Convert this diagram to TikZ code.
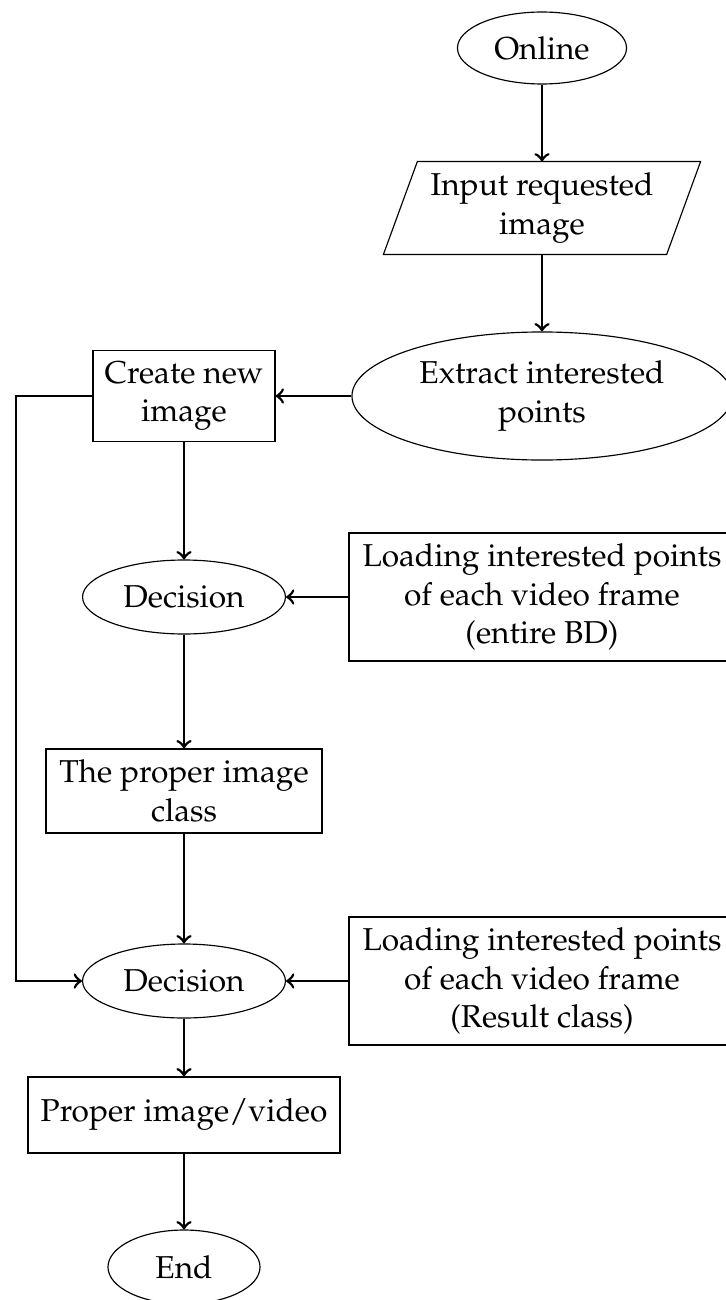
\documentclass[tikz,border=0pt]{standalone}
\usepackage[T1]{fontenc}
\usepackage{mathpazo}
\usetikzlibrary{shapes.geometric,calc}

\begin{document}
\begin{tikzpicture}[x=0.346pt,y=-0.346pt,
  every node/.style={font=\fontsize{10.95}{13.4}\selectfont, align=center, inner sep=0pt, line width=0.4pt},
  oval/.style={draw, ellipse},
  box/.style={draw, rectangle},
  link/.style={line width=0.95pt, ->},
]
\useasboundingbox (0,0) rectangle (725,1300);

% main column on the right
\node[oval, minimum width=58.5pt, minimum height=24.9pt] (online) at (542,48) {Online};
\node[minimum width=97.6pt, minimum height=31.8pt] (input) at (542,208) {Input requested\\image};
\draw[line width=0.4pt]
  ($(input.south west)+(-17,0)$) -- ($(input.north west)+(17,0)$) --
  ($(input.north east)+(17,0)$) -- ($(input.south east)+(-17,0)$) -- cycle;
\node[oval, minimum width=131.5pt, minimum height=44.3pt] (extract) at (542,396) {Extract interested\\points};

% processing column on the left
\node[box, minimum width=63pt, minimum height=31.5pt] (create) at (184,396) {Create new\\image};
\node[oval, minimum width=70.2pt, minimum height=25.6pt] (dec1) at (184,597) {Decision};
\node[box, minimum width=133.6pt, minimum height=44.3pt] (load1) at (542,597)
  {Loading interested points\\of each video frame\\(entire BD)};
\node[box, minimum width=95.5pt, minimum height=29.1pt] (class) at (184,791) {The proper image\\class};
\node[oval, minimum width=70.2pt, minimum height=25.6pt] (dec2) at (184,981) {Decision};
\node[box, minimum width=133.6pt, minimum height=44.3pt] (load2) at (542,981)
  {Loading interested points\\of each video frame\\(Result class)};
\node[box, minimum width=108pt, minimum height=26.3pt] (result) at (184,1115) {Proper image/video};
\node[oval, minimum width=52.6pt, minimum height=25.6pt] (end) at (184,1267) {End};

% connectors
\draw[link] (online) -- (input);
\draw[link] (input) -- (extract);
\draw[link] (extract) -- (create);
\draw[link] (create) -- (dec1);
\draw[link] (load1) -- (dec1);
\draw[link] (dec1) -- (class);
\draw[link] (class) -- (dec2);
\draw[link] (load2) -- (dec2);
\draw[link] (dec2) -- (result);
\draw[link] (result) -- (end);

% feedback line along the left margin
\coordinate (loopx) at (16,0);
\draw[link] (create.west) -- (create.west -| loopx) |- (dec2.west);
\end{tikzpicture}
\end{document}
